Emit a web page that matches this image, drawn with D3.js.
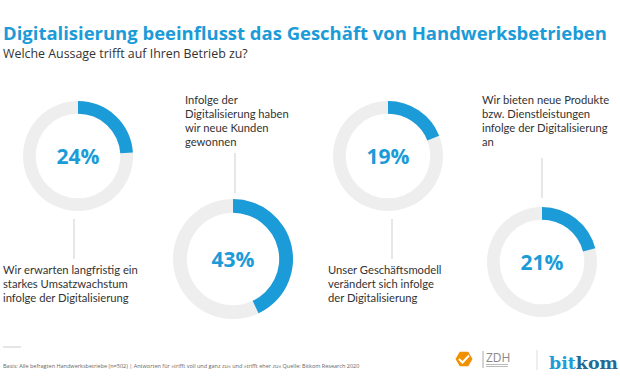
<!DOCTYPE html>
<html>
<head>
<meta charset="utf-8">
<script src="https://cdn.jsdelivr.net/npm/d3@7"></script>
<style>
  body { margin: 0; background: #fff; }
  svg { display: block; font-family: 'Open Sans', sans-serif; }
</style>
</head>
<body>
<div id="viz"></div>
<script>
// data
let values = [24, 43, 19, 21]
let statements = [
	['Wir erwarten langfristig ein', 'starkes Umsatzwachstum', 'infolge der Digitalisierung'],
	['Infolge der', 'Digitalisierung haben', 'wir neue Kunden', 'gewonnen'],
	['Unser Geschäftsmodell', 'verändert sich infolge', 'der Digitalisierung'],
	['Wir bieten neue Produkte', 'bzw. Dienstleistungen', 'infolge der Digitalisierung', 'an']
]
let title = 'Digitalisierung beeinflusst das Geschäft von Handwerksbetrieben'
let subtitle = 'Welche Aussage trifft auf Ihren Betrieb zu?'
let source = 'Basis: Alle befragten Handwerksbetriebe (n=502) | Antworten für »trifft voll und ganz zu« und »trifft eher zu« Quelle: Bitkom Research 2020'

const width = 620, height = 380
const blue = '#1b9bd7', ringGrey = '#eeeeee', textGrey = '#333'

// layout of the four rings (label below or above the ring)
let layout = [
	{cx: 78, cy: 156, r: 55, lineX: 74, lineY: [219, 259], labelX: 3, labelY: 274},
	{cx: 233, cy: 259, r: 60, lineX: 235, lineY: [153, 193], labelX: 185, labelY: 104},
	{cx: 388, cy: 156, r: 55, lineX: 392, lineY: [219, 259], labelX: 328, labelY: 274},
	{cx: 542, cy: 262, r: 55, lineX: 542, lineY: [158, 198], labelX: 482, labelY: 104}
]

let svg = d3.select('#viz')
			.append('svg')
			.attr('width', width)
			.attr('height', height)

//fit a text element to a target width by changing font size
function fitWidth(sel, target) {
	let w = sel.node().getComputedTextLength()
	let fs = parseFloat(sel.attr('font-size'))
	sel.attr('font-size', fs * target / w)
	return fs * target / w
}

let t = svg.append('text')
	.attr('x', 3).attr('y', 40)
	.attr('font-size', 18)
	.attr('font-weight', 700)
	.attr('fill', blue)
	.text(title)
fitWidth(t, 604)

let st = svg.append('text')
	.attr('x', 3).attr('y', 58)
	.attr('font-size', 14)
	.attr('fill', textGrey)
	.text(subtitle)
fitWidth(st, 245)

//label font size from the width of the first statement line
let probe = svg.append('text')
	.attr('font-family', 'Lato, sans-serif')
	.attr('font-size', 12)
	.text(statements[0][0])
let labelSize = fitWidth(probe, 135)
probe.remove()

let angle = d3.scaleLinear().domain([0, 100]).range([0, 2 * Math.PI])

let groups = svg.selectAll('g.donut')
	.data(values)
	.enter()
	.append('g')
	.attr('class', 'donut')

groups.each(function (v, i) {
	let g = d3.select(this)
	let l = layout[i]
	let thick = l.r * 0.23
	let arc = d3.arc().innerRadius(l.r - thick).outerRadius(l.r)

	let ring = g.append('g').attr('transform', `translate(${l.cx},${l.cy})`)
	ring.append('path')
		.attr('d', arc({startAngle: 0, endAngle: 2 * Math.PI}))
		.attr('fill', ringGrey)
	ring.append('path')
		.attr('d', arc({startAngle: 0, endAngle: angle(v)}))
		.attr('fill', blue)
	ring.append('text')
		.attr('text-anchor', 'middle')
		.attr('y', 8)
		.attr('font-size', 21)
		.attr('font-weight', 700)
		.attr('fill', blue)
		.text(v + '%')

	g.append('line')
		.attr('x1', l.lineX).attr('x2', l.lineX)
		.attr('y1', l.lineY[0]).attr('y2', l.lineY[1])
		.attr('stroke', '#cfcfcf')
		.attr('stroke-width', 1)

	g.append('text')
		.attr('font-family', 'Lato, sans-serif')
		.attr('font-size', labelSize)
		.attr('fill', textGrey)
		.selectAll('tspan')
		.data(statements[i])
		.enter()
		.append('tspan')
		.attr('x', l.labelX)
		.attr('y', (d, k) => l.labelY + k * 14)
		.text(d => d)
})

//footer
svg.append('line')
	.attr('x1', 3).attr('x2', 21)
	.attr('y1', 347).attr('y2', 347)
	.attr('stroke', '#ccc')

let src = svg.append('text')
	.attr('x', 3).attr('y', 368)
	.attr('font-size', 6.5)
	.attr('fill', '#666')
	.text(source)
fitWidth(src, 357)

//logos
let zdh = svg.append('g')
zdh.append('path')
	.attr('d', d3.line()(d3.range(6).map(k => [464 + 8.5 * Math.cos(k * Math.PI / 3), 359 + 8.5 * Math.sin(k * Math.PI / 3)])) + 'Z')
	.attr('fill', '#f29100')
zdh.append('path')
	.attr('d', 'M459,359 l3.5,3.5 l6.5,-7')
	.attr('fill', 'none').attr('stroke', '#fff').attr('stroke-width', 2)
zdh.append('line').attr('x1', 483).attr('x2', 483).attr('y1', 351).attr('y2', 368).attr('stroke', '#aaa')
zdh.append('text').attr('x', 486).attr('y', 362).attr('font-size', 12).attr('fill', '#888').text('ZDH')
zdh.append('rect').attr('x', 486).attr('y', 364).attr('width', 22).attr('height', 1).attr('fill', '#bbb')
zdh.append('rect').attr('x', 486).attr('y', 366).attr('width', 22).attr('height', 1).attr('fill', '#bbb')

svg.append('line').attr('x1', 537).attr('x2', 537).attr('y1', 350).attr('y2', 370).attr('stroke', '#ddd')

let bk = svg.append('text')
	.attr('x', 549).attr('y', 369)
	.attr('font-size', 21)
	.attr('font-family', 'DejaVu Serif, serif')
	.attr('font-weight', 700)
bk.append('tspan').attr('fill', '#1c9dd9').text('bit')
bk.append('tspan').attr('fill', '#1f6a96').text('kom')
fitWidth(bk, 69)
</script>
</body>
</html>
